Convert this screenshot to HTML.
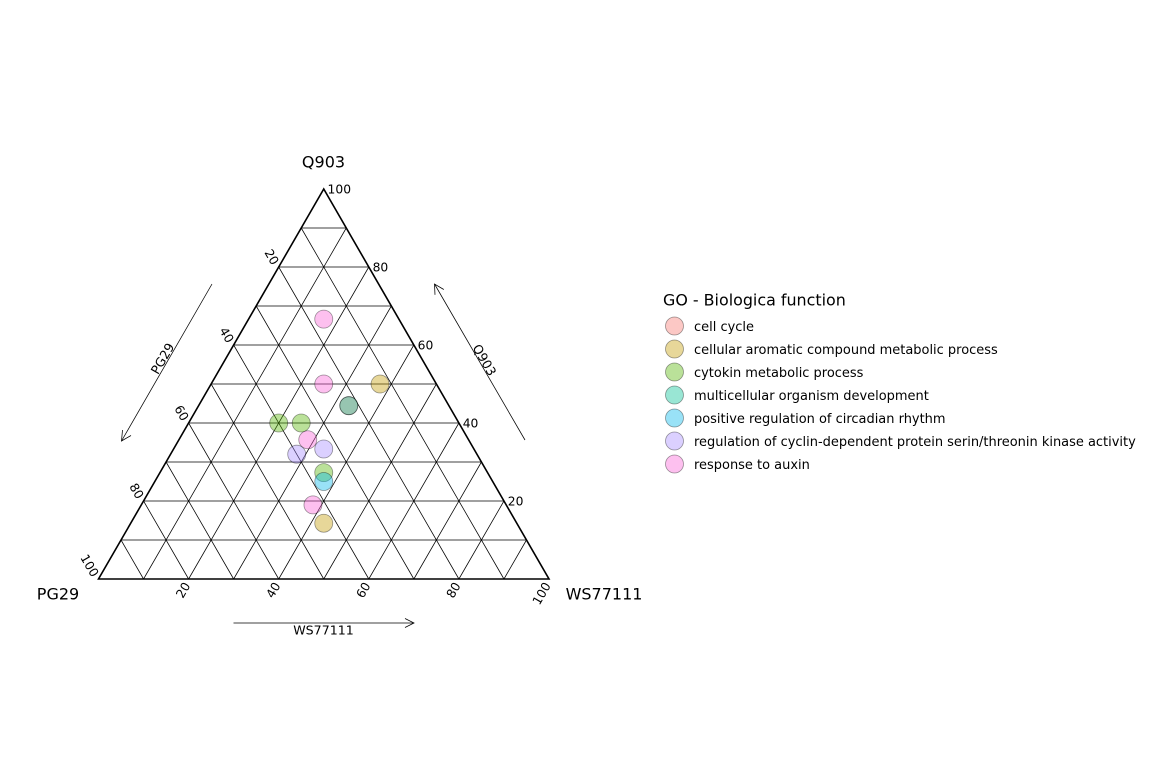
<!DOCTYPE html>
<html lang="en">
<head>
<meta charset="utf-8">
<title>Ternary plot</title>
<style>
html,body{margin:0;padding:0;background:#fff;width:1152px;height:768px;overflow:hidden}
svg{display:block}
text{font-family:"DejaVu Sans","Liberation Sans",sans-serif;fill:#000}
</style>
</head>
<body>
<svg id="chart" xmlns="http://www.w3.org/2000/svg" width="1152" height="768" viewBox="0 0 1152 768">
  <rect x="0" y="0" width="1152" height="768" fill="#fff"/>
  <g id="grid"></g>
  <g id="frame"></g>
  <g id="ticks"></g>

  <text x="323.5" y="167.500" font-size="16" text-anchor="middle">Q903</text>
  <text x="58" y="599.500" font-size="16" text-anchor="middle">PG29</text>
  <text x="604" y="599.500" font-size="16" text-anchor="middle">WS77111</text>

  <g fill="none" stroke="#000" stroke-width="0.75">
    <g>
      <path d="M212 284L121.5 441"/>
      <path d="M122.5 430L121.5 441L131 435.500"/>
    </g>
    <g>
      <path d="M525 440L434.500 284"/>
      <path d="M435 294.800L434.500 284L443.800 289.500"/>
    </g>
    <g>
      <path d="M233.500 623H414"/>
      <path d="M405 618.500L414 623L405 627.500"/>
    </g>
  </g>
  <text transform="translate(162.500 358.500) rotate(-60)" font-size="12.6" text-anchor="middle" dominant-baseline="central">PG29</text>
  <text transform="translate(484.500 360) rotate(60)" font-size="12.6" text-anchor="middle" dominant-baseline="central">Q903</text>
  <text x="323.500" y="634.500" font-size="12.6" text-anchor="middle">WS77111</text>

  <g id="points"></g>
  <g id="legend">
    <text x="663" y="305.500" font-size="15.9">GO - Biologica function</text>
  </g>
</svg>
<script>
const categories = [
  "cell cycle",
  "cellular aromatic compound metabolic process",
  "cytokin metabolic process",
  "multicellular organism development",
  "positive regulation of circadian rhythm",
  "regulation of cyclin-dependent protein serin/threonin kinase activity",
  "response to auxin"
];
const categoryColors = ["#F8766D", "#C49A00", "#53B400", "#00C094", "#00B6EB", "#A58AFF", "#FB61D7"];

const pointCategory = [0, 1, 1, 2, 2, 2, 3, 4, 5, 5, 6, 6, 6, 6];
const pg29Values    = [22.2, 12.5, 42.85, 40, 35, 36.4, 22.2, 37.5, 33.3, 40, 16.7, 25, 35.7, 42.9];
const ws77111Values = [33.3, 37.5, 42.85, 20, 25, 36.4, 33.3, 37.5, 33.3, 28, 16.7, 25, 28.6, 38.1];
const q903Values    = [44.4, 50, 14.3, 40, 40, 27.3, 44.4, 25, 33.3, 32, 66.7, 50, 35.7, 19];

const gridValues = [10, 20, 30, 40, 50, 60, 70, 80, 90];
const tickValues = [20, 40, 60, 80, 100];

const SVG_NS = "http://www.w3.org/2000/svg";
const LEFT_X = 98.5, RIGHT_X = 549, BASE_Y = 579, TOP_Y = 189;

function project(pg29, ws77111, q903) {
  const total = pg29 + ws77111 + q903;
  const b = ws77111 / total, c = q903 / total;
  return {
    x: LEFT_X + (RIGHT_X - LEFT_X) * (b + c / 2),
    y: BASE_Y - (BASE_Y - TOP_Y) * c
  };
}

function make(tag, attrs, parent) {
  const el = document.createElementNS(SVG_NS, tag);
  for (const k in attrs) el.setAttribute(k, attrs[k]);
  parent.appendChild(el);
  return el;
}

function gridLine(p1, p2, parent) {
  const el = make("line", {
    x1: p1.x, y1: p1.y, x2: p2.x, y2: p2.y,
    stroke: "#000", "stroke-width": 0.75
  }, parent);
  
  
}

const gridGroup = document.getElementById("grid");
gridValues.forEach(function (v) {
  const rest = 100 - v;
  gridLine(project(rest, 0, v), project(0, rest, v), gridGroup);
  gridLine(project(v, rest, 0), project(v, 0, rest), gridGroup);
  gridLine(project(rest, v, 0), project(0, v, rest), gridGroup);
});

const frameGroup = document.getElementById("frame");
const cornerL = project(100, 0, 0), cornerR = project(0, 100, 0), cornerT = project(0, 0, 100);
const frame = make("path", {
  d: "M" + cornerL.x + " " + cornerL.y + "L" + cornerR.x + " " + cornerR.y + "L" + cornerT.x + " " + cornerT.y + "Z",
  fill: "none", stroke: "#000", "stroke-width": 1.6, "stroke-linejoin": "miter"
}, frameGroup);



const tickGroup = document.getElementById("ticks");
tickValues.forEach(function (v) {
  const rest = 100 - v;

  const rp = project(0, rest, v);
  const rt = make("text", {
    x: rp.x + 3.8, y: rp.y + 0.3, "font-size": 12.3,
    "dominant-baseline": "central"
  }, tickGroup);
  rt.textContent = v;
  
  

  const lp = project(v, 0, rest);
  const lt = make("text", {
    transform: "translate(" + (lp.x - 3.3) + " " + (lp.y - 3.1) + ") rotate(60)",
    "font-size": 12.3, "text-anchor": "end", "dominant-baseline": "central"
  }, tickGroup);
  lt.textContent = v;
  
  

  const bp = project(rest, v, 0);
  const bt = make("text", {
    transform: "translate(" + (bp.x - 1.3) + " " + (bp.y + 4.5) + ") rotate(-60)",
    "font-size": 12.3, "text-anchor": "end", "dominant-baseline": "central"
  }, tickGroup);
  bt.textContent = v;
  
  
});

const pointGroup = document.getElementById("points");
pointCategory.forEach(function (cat, i) {
  const p = project(pg29Values[i], ws77111Values[i], q903Values[i]);
  const c = make("circle", {
    cx: p.x, cy: p.y, r: 9,
    fill: categoryColors[cat], "fill-opacity": 0.4,
    stroke: "#000", "stroke-opacity": 0.4, "stroke-width": 0.8
  }, pointGroup);
  
  
});

const legendGroup = document.getElementById("legend");
categories.forEach(function (name, i) {
  const rowY = 326 + i * 23;
  const g = make("g", {}, legendGroup);
  
  
  const key = make("circle", {
    cx: 674.5, cy: rowY, r: 9,
    fill: categoryColors[i], "fill-opacity": 0.4,
    stroke: "#000", "stroke-opacity": 0.4, "stroke-width": 0.8
  }, g);
  
  
  const label = make("text", { x: 694, y: rowY + 5, "font-size": 12.97 }, g);
  label.textContent = name;
  
  
});
</script>
</body>
</html>
